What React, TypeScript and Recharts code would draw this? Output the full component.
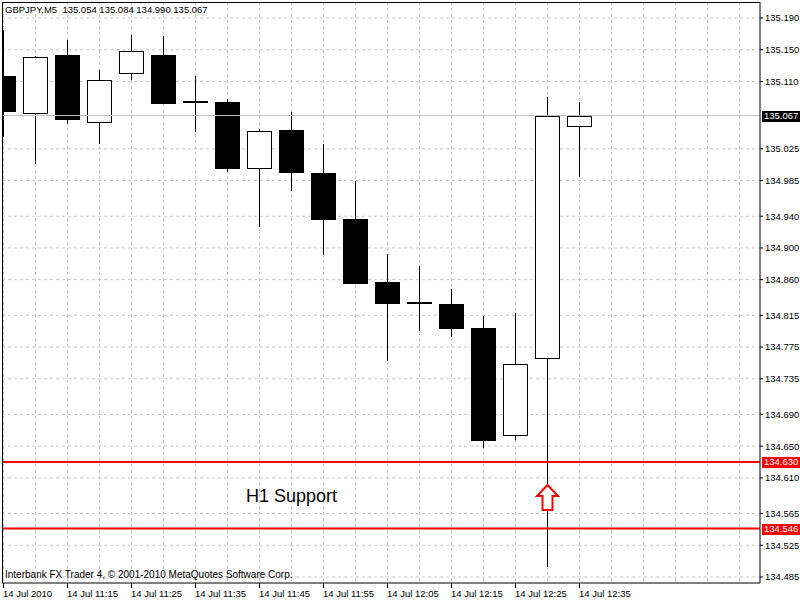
import React from 'react';
import {
  ComposedChart, Bar, XAxis, YAxis, CartesianGrid, ReferenceLine, ReferenceDot
} from 'recharts';

// GBPJPY M5, 14 Jul 2010
const candleTimes = ['11:05', '11:10', '11:15', '11:20', '11:25', '11:30', '11:35', '11:40', '11:45', '11:50',
  '11:55', '12:00', '12:05', '12:10', '12:15', '12:20', '12:25', '12:30', '12:35'];
const opens = [135.117, 135.070, 135.143, 135.059, 135.121, 135.143, 135.084, 135.084, 135.001, 135.049,
  134.995, 134.937, 134.857, 134.831, 134.829, 134.799, 134.664, 134.761, 135.054];
const highs = [135.175, 135.142, 135.162, 135.124, 135.169, 135.167, 135.117, 135.088, 135.050, 135.071,
  135.031, 134.984, 134.892, 134.877, 134.848, 134.814, 134.818, 135.090, 135.084];
const lows = [135.040, 135.006, 135.056, 135.031, 135.112, 135.082, 135.046, 134.996, 134.926, 134.972,
  134.891, 134.855, 134.757, 134.795, 134.788, 134.648, 134.658, 134.498, 134.990];
const closes = [135.073, 135.141, 135.063, 135.112, 135.148, 135.083, 135.084, 135.001, 135.047, 134.996,
  134.937, 134.856, 134.831, 134.831, 134.799, 134.658, 134.754, 135.067, 135.067];

const timeTicks = [0, 2, 4, 6, 8, 10, 12, 14, 16, 18];
const timeTickLabels = ['14 Jul 2010', '14 Jul 11:15', '14 Jul 11:25', '14 Jul 11:35', '14 Jul 11:45',
  '14 Jul 11:55', '14 Jul 12:05', '14 Jul 12:15', '14 Jul 12:25', '14 Jul 12:35'];
const gridColumns = [0, 1, 2, 3, 4, 5, 6, 7, 8, 9, 10, 11, 12, 13, 14, 15, 16, 17, 18, 19, 20, 21, 22, 23];
const priceTicks = [135.190, 135.150, 135.110, 135.025, 134.985, 134.940, 134.900, 134.860, 134.815,
  134.775, 134.735, 134.690, 134.650, 134.610, 134.565, 134.525, 134.485];

const lastPrice = 135.067;
const supportLevels = [134.630, 134.546];
const arrowIndex = 17;
const arrowPrice = 134.601;
const noteIndex = 7.58;
const notePrice = 134.580;
const noteText = 'H1 Support';

const data = candleTimes.map((t, i) => ({
  i, time: t, open: opens[i], high: highs[i], low: lows[i], close: closes[i],
}));

const FONT = '"Liberation Sans", Arial, sans-serif';

function Candle(props: any) {
  const { x, y, width, height, payload } = props;
  if (!payload || height == null) return null;
  const { open, high, low, close } = payload;
  const cx = Math.round(x + width / 2 - 0.5) + 0.5;
  const k = height / (high - low);
  const py = (v: number) => y + (high - v) * k;
  const top = Math.round(py(Math.max(open, close)));
  const bot = Math.round(py(Math.min(open, close)));
  let body;
  if (close > open) {
    body = <rect x={cx - 12} y={top + 0.5} width={24} height={Math.max(bot - top, 1)}
      fill="#fff" stroke="#000" strokeWidth={1} shapeRendering="crispEdges" />;
  } else if (close < open) {
    body = <rect x={cx - 12.5} y={top} width={25} height={bot - top + 1} fill="#000" shapeRendering="crispEdges" />;
  } else {
    body = <rect x={cx - 12.5} y={top - 1} width={25} height={2} fill="#000" shapeRendering="crispEdges" />;
  }
  return (
    <g>
      <line x1={cx} x2={cx} y1={Math.round(y)} y2={Math.round(y + height)} stroke="#000" strokeWidth={1}
        shapeRendering="crispEdges" />
      {body}
    </g>
  );
}

function PriceTag({ viewBox, value, bg }: any) {
  if (!viewBox) return null;
  const x = viewBox.x + viewBox.width + 2;
  const y = viewBox.y;
  return (
    <g>
      <rect x={x} y={Math.round(y) - 5} width={38} height={11} fill={bg} />
      <text x={x + 2} y={y} dy="0.35em" fill="#fff" fontSize={9.5} fontFamily={FONT}>{value.toFixed(3)}</text>
    </g>
  );
}

function Arrow(props: any) {
  const { cx, cy } = props;
  const pts = [
    [cx, cy], [cx + 10.5, cy + 11], [cx + 5, cy + 11], [cx + 5, cy + 25],
    [cx - 5, cy + 25], [cx - 5, cy + 11], [cx - 10.5, cy + 11],
  ].map(p => p.join(',')).join(' ');
  return <polygon points={pts} fill="#fff" stroke="#ff0000" strokeWidth={2} />;
}

function Note(props: any) {
  const { cx, cy } = props;
  return <text x={cx} y={cy} fontSize={18} fontFamily={FONT} fill="#000">{noteText}</text>;
}

function TimeTick(props: any) {
  const { x, y, payload } = props;
  const idx = timeTicks.indexOf(payload.value);
  return (
    <text x={x - 0.5} y={y + 7} textAnchor="start" fontSize={9.5} fontFamily={FONT} fill="#000">
      {timeTickLabels[idx]}
    </text>
  );
}

export default function App() {
  return (
    <div style={{ position: 'absolute', left: 0, top: 0, width: 800, height: 600, background: '#fff' }}>
      <ComposedChart width={800} height={600} data={data} margin={{ top: 2, right: 0, bottom: 0, left: 2 }}>
        <CartesianGrid stroke="#c8c8c8" strokeDasharray="3 3" horizontalValues={priceTicks}
          verticalValues={gridColumns} />
        <XAxis dataKey="i" type="number" domain={[-0.047, 23.64]} allowDataOverflow ticks={timeTicks}
          interval={0} height={17} tickSize={5} stroke="#000" tick={<TimeTick />} />
        <YAxis orientation="right" type="number" domain={[134.4774, 135.2102]} allowDataOverflow width={40}
          ticks={priceTicks} interval={0} tickSize={3} stroke="#000"
          tickFormatter={(v: number) => v.toFixed(3)}
          tick={{ fontSize: 9.5, fill: '#000', fontFamily: FONT }} />
        <ReferenceLine y={lastPrice} stroke="#c0c0c0" strokeWidth={1}
          label={(p: any) => <PriceTag {...p} value={lastPrice} bg="#000" />} />
        <Bar dataKey={(d: any) => [d.low, d.high]} barSize={24} shape={<Candle />} isAnimationActive={false} />
        {supportLevels.map(v => (
          <ReferenceLine key={v} y={v} stroke="#ff0000" strokeWidth={2}
            label={(p: any) => <PriceTag {...p} value={v} bg="#ff0000" />} />
        ))}
        <ReferenceDot x={arrowIndex} y={arrowPrice} r={0} shape={(p: any) => <Arrow {...p} />} />
        <ReferenceDot x={noteIndex} y={notePrice} r={0} shape={(p: any) => <Note {...p} />} />
      </ComposedChart>
      <div style={{ position: 'absolute', left: 2, top: 2, width: 758, height: 581, borderTop: '1px solid #000',
        borderLeft: '1px solid #000', boxSizing: 'border-box', pointerEvents: 'none' }} />
      <div style={{ position: 'absolute', left: 5, top: 4, fontSize: 9.5, lineHeight: '11px', fontFamily: FONT,
        whiteSpace: 'pre' }}>
        {'GBPJPY,M5  135.054 135.084 134.990 135.067'}
      </div>
      <div style={{ position: 'absolute', left: 5, top: 569, fontSize: 10, lineHeight: '11px', fontFamily: FONT }}>
        Interbank FX Trader 4, © 2001-2010 MetaQuotes Software Corp.
      </div>
    </div>
  );
}
